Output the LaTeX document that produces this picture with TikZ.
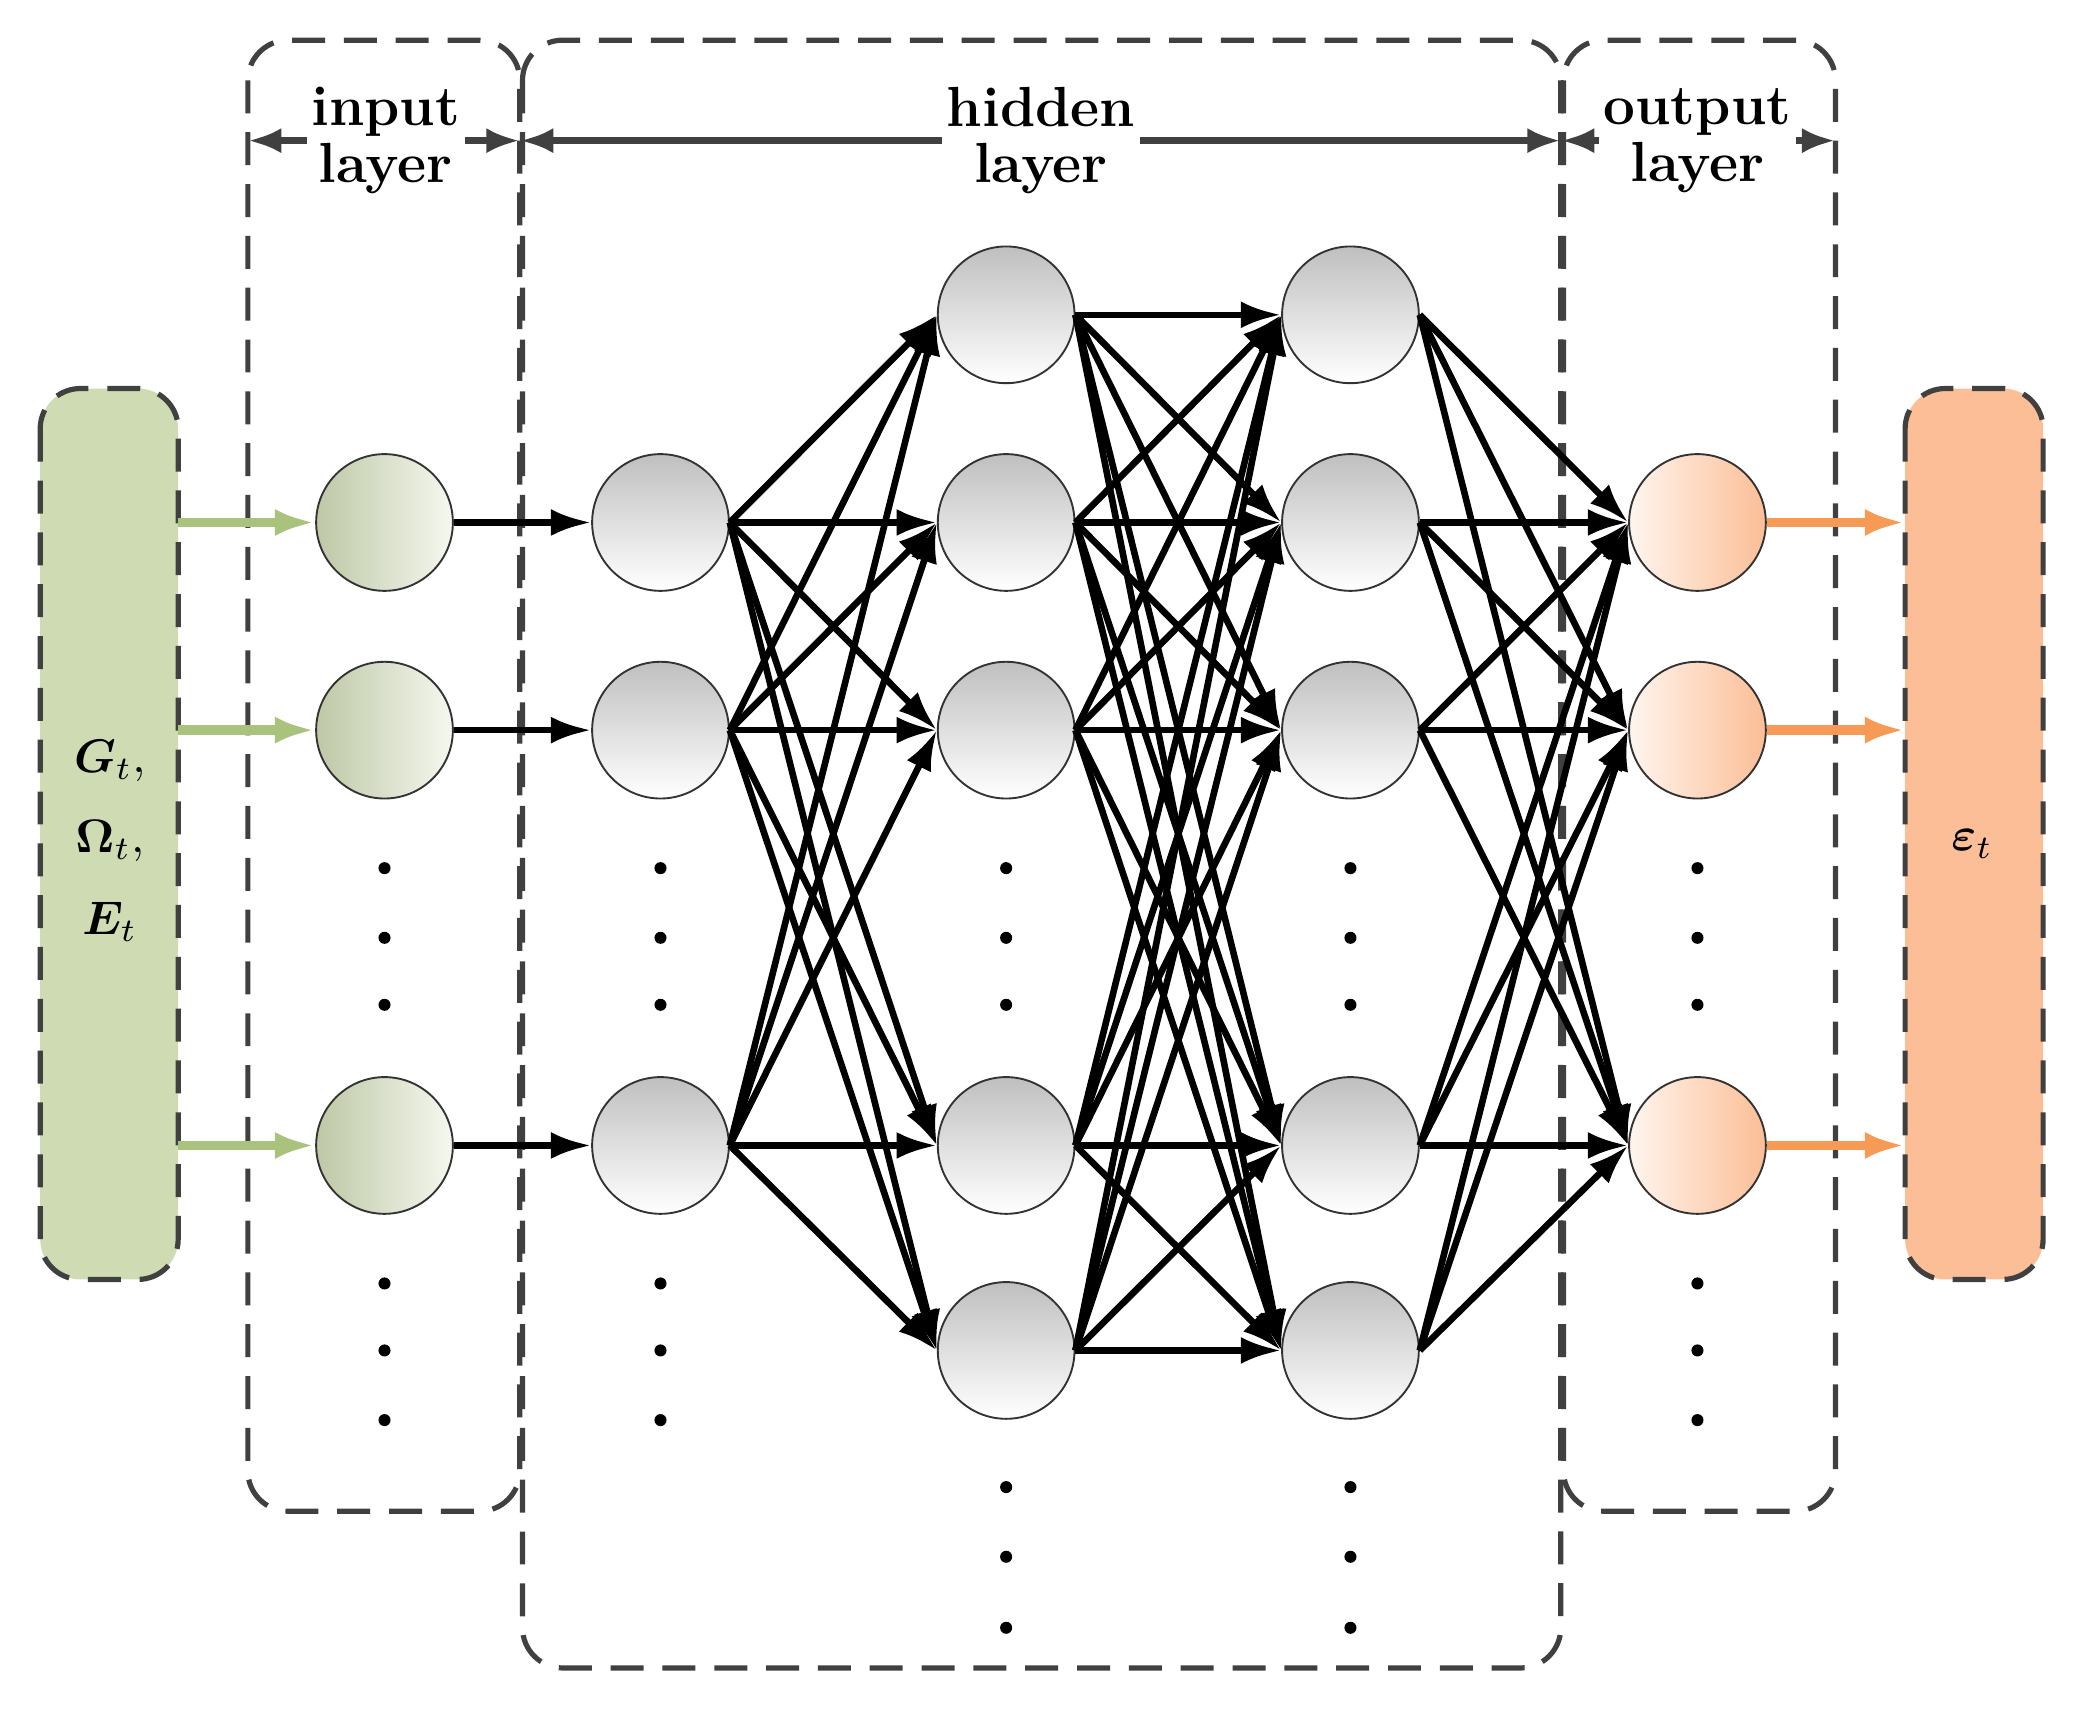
\documentclass[tikz,border=0pt]{standalone}
\usepackage{amsmath}
\usepackage{bm}
\usetikzlibrary{arrows.meta}
\definecolor{ingreen}{HTML}{CFDBB3}
\definecolor{inarrow}{HTML}{A9C27C}
\definecolor{outorange}{HTML}{FBBE96}
\definecolor{outarrow}{HTML}{F79A55}
\definecolor{boxgray}{HTML}{404040}
\tikzset{
  neuron/.style={circle,draw=black!80,thin,minimum size=1.02cm,inner sep=0pt,top color=black!25,bottom color=white},
  inneuron/.style={neuron,left color=ingreen!90!black!95,right color=white!80!ingreen},
  outneuron/.style={neuron,left color=white!85!outorange,right color=outorange},
  layerbox/.style={draw=boxgray,dash pattern=on 7pt off 4pt,line width=1.1pt,rounded corners=0.3cm},
  link/.style={line width=1.4pt,-{Latex[length=0.3cm,width=0.2cm]}},
  dotmark/.style={circle,fill=black,inner sep=0pt,minimum size=0.09cm},
  label/.style={font=\large\bfseries,align=center,fill=white,inner sep=1pt}
}
\begin{document}
\begin{tikzpicture}[x=0.01cm,y=-0.01cm]
        \useasboundingbox (0,0) rectangle (1560,1286);
        %data boxes
        \draw[layerbox,fill=ingreen] (30,290) rectangle (133,955);
        \draw[layerbox,fill=outorange] (1422,290) rectangle (1525,955);
        \node (G) at (82,568) {$\boldsymbol{G}_t,$};
        \node (O) at (82,628) {$\boldsymbol{\Omega}_t,$};
        \node (E) at (82,688) {$\boldsymbol{E}_t$};
        \node (eps) at (1472,630) {$\boldsymbol{\varepsilon}_t$};

        %layer boxes
        \draw[layerbox] (185,30) rectangle (388,1128);
        \draw[layerbox] (390,30) rectangle (1165,1245);
        \draw[layerbox] (1167,30) rectangle (1370,1128);
        \coordinate (a0) at (185,105);
        \coordinate (a1) at (388,105);
        \coordinate (a2) at (1165,105);
        \coordinate (a3) at (1370,105);
        \draw[boxgray,line width=1.4pt,{Latex[length=0.25cm]}-{Latex[length=0.25cm]}] (a0) -- (a1);
        \draw[boxgray,line width=1.4pt,{Latex[length=0.25cm]}-{Latex[length=0.25cm]}] (a1) -- (a2);
        \draw[boxgray,line width=1.4pt,{Latex[length=0.25cm]}-{Latex[length=0.25cm]}] (a2) -- (a3);
        \node[label] (lin) at (288,105) {input\\[-2pt]layer};
        \node[label] (lhid) at (777,105) {hidden\\[-2pt]layer};
        \node[label] (lout) at (1267,105) {output\\[-2pt]layer};

        %neurons
        \foreach \i/\y in {1/390,2/545,3/855} {
          \node[inneuron] (i\i) at (287,\y) {};
          \node[neuron] (p\i) at (493,\y) {};
          \node[outneuron] (o\i) at (1267,\y) {};
        }
        \foreach \i/\y in {1/235,2/390,3/545,4/855,5/1008} {
          \node[neuron] (q\i) at (751,\y) {};
          \node[neuron] (r\i) at (1008,\y) {};
        }

        %dots
        \foreach \x in {287,493,1267}
          \foreach \y in {648,700,750,958,1008,1060}
            \node[dotmark] at (\x,\y) {};
        \foreach \x in {751,1008}
          \foreach \y in {648,700,750,1110,1162,1215}
            \node[dotmark] at (\x,\y) {};

        %arrows
        \foreach \i/\y in {1/390,2/545,3/855} {
          \coordinate (gi\i) at (133,\y);
          \coordinate (go\i) at (1422,\y);
          \draw[link,inarrow,line width=2pt] (gi\i) -- (i\i);
          \draw[link,outarrow,line width=2pt] (o\i) -- (go\i);
          \draw[link] (i\i) -- (p\i);
        }
        \foreach \i in {1,2,3}
          \foreach \j in {1,...,5}
            \draw[link] (p\i.east) -- (q\j.west);
        \foreach \i in {1,...,5}
          \foreach \j in {1,...,5}
            \draw[link] (q\i.east) -- (r\j.west);
        \foreach \i in {1,...,5}
          \foreach \j in {1,2,3}
            \draw[link] (r\i.east) -- (o\j.west);
\end{tikzpicture}
\end{document}
